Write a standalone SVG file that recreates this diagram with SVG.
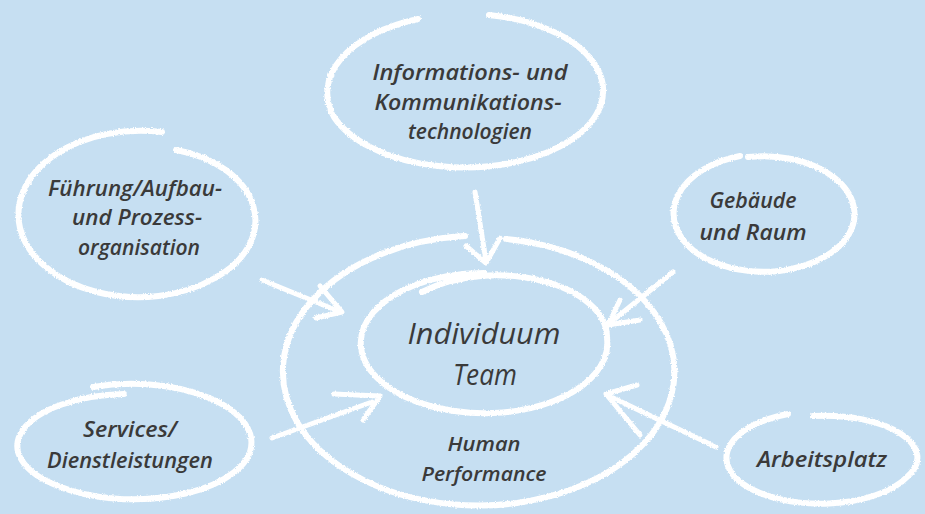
<svg xmlns="http://www.w3.org/2000/svg" width="925" height="514" viewBox="0 0 925 514">
  <defs>
    <filter id="chalk" filterUnits="userSpaceOnUse" x="0" y="0" width="925" height="514">
      <feTurbulence type="fractalNoise" baseFrequency="0.7" numOctaves="2" seed="4" result="n"/>
      <feDisplacementMap in="SourceGraphic" in2="n" scale="3" xChannelSelector="R" yChannelSelector="G"/>
    </filter>
    <style>
      .ring { fill: none; stroke: #ffffff; stroke-width: 6; stroke-linecap: round; stroke-linejoin: round; }
      .arrow { fill: none; stroke: #ffffff; stroke-width: 5; stroke-linecap: round; stroke-linejoin: round; }
      .lbl { font-family: "Open Sans", "Liberation Sans", "DejaVu Sans", sans-serif; font-style: italic; font-weight: 600; font-size: 22px; fill: #3a3a3a; text-anchor: middle; }
      .big { font-size: 30px; font-weight: 500; }
      .mid { font-size: 20px; }
    </style>
  </defs>
  <rect x="0" y="0" width="925" height="514" fill="#c6dff2"/>

  <g id="connectors" filter="url(#chalk)">
    <path class="arrow" d="M475,192 L486,261"/>
    <path class="arrow" d="M466,246 L486,263 L500,238"/>
    <path class="arrow" d="M262,280 L338,311"/>
    <path class="arrow" d="M320,286 L342,312 L316,318"/>
    <path class="arrow" d="M673,272 L611,322"/>
    <path class="arrow" d="M620,300 L608,325 L640,320"/>
    <path class="arrow" d="M272,438 L372,402"/>
    <path class="arrow" d="M334,394 L380,396 L363,420"/>
    <path class="arrow" d="M716,447 L609,396"/>
    <path class="arrow" d="M637,385 L606,394 L640,435"/>
  </g>

  <g id="human-performance">
    <path class="ring" filter="url(#chalk)" d="M506,239 A196,134 0 0,1 633,454 A196,134 0 0,1 297,422 A198,136 0 0,1 465,236"/>
    <text class="lbl mid" x="484" y="451" textLength="73" lengthAdjust="spacingAndGlyphs">Human</text>
    <text class="lbl mid" x="484" y="481" textLength="125" lengthAdjust="spacingAndGlyphs">Performance</text>
  </g>

  <g id="individuum-team">
    <path class="ring" filter="url(#chalk)" d="M422,292 A110,62 0 0,1 607,338 A123,70 0 0,1 430,406 A123,70 0 0,1 415,285 A123,70 0 0,1 484,273"/>
    <text class="lbl big" x="484" y="344" textLength="153" lengthAdjust="spacingAndGlyphs">Individuum</text>
    <text class="lbl big" x="485" y="385" textLength="64" lengthAdjust="spacingAndGlyphs">Team</text>
  </g>

  <g id="ikt">
    <path class="ring" filter="url(#chalk)" d="M489,15 A139,77 0 0,1 571,140 A139,77 0 0,1 334,117 A141,79 0 0,1 418,19"/>
    <text class="lbl" x="470" y="80" textLength="195" lengthAdjust="spacingAndGlyphs">Informations- und</text>
    <text class="lbl" x="468" y="110" textLength="187" lengthAdjust="spacingAndGlyphs">Kommunikations-</text>
    <text class="lbl" x="470" y="139" textLength="124" lengthAdjust="spacingAndGlyphs">technologien</text>
  </g>

  <g id="fuehrung">
    <path class="ring" filter="url(#chalk)" d="M176,150 A106,73 0 0,1 215,278 A120,83 0 0,1 20,228 A122,84 0 0,1 162,132"/>
    <text class="lbl" x="135" y="196" textLength="174" lengthAdjust="spacingAndGlyphs">Führung/Aufbau-</text>
    <text class="lbl" x="137" y="225" textLength="130" lengthAdjust="spacingAndGlyphs">und Prozess-</text>
    <text class="lbl" x="139" y="255" textLength="122" lengthAdjust="spacingAndGlyphs">organisation</text>
  </g>

  <g id="gebaeude">
    <path class="ring" filter="url(#chalk)" d="M748,157 A91,58 0 0,1 849,234 A91,58 0 0,1 694,251 A93,60 0 0,1 740,156"/>
    <text class="lbl" x="753" y="208" textLength="87" lengthAdjust="spacingAndGlyphs">Gebäude</text>
    <text class="lbl" x="753" y="240" textLength="107" lengthAdjust="spacingAndGlyphs">und Raum</text>
  </g>

  <g id="services">
    <path class="ring" filter="url(#chalk)" d="M93,387 A120,59 0 0,1 250,452 A118,57 0 0,1 58,486 A112,52 0 0,1 124,394"/>
    <text class="lbl" x="130" y="437" textLength="94" lengthAdjust="spacingAndGlyphs">Services/</text>
    <text class="lbl" x="130" y="468" textLength="166" lengthAdjust="spacingAndGlyphs">Dienstleistungen</text>
  </g>

  <g id="arbeitsplatz">
    <path class="ring" filter="url(#chalk)" d="M813,416 A93,42 0 0,1 907,477 A95,46 0 0,1 743,484 A97,47 0 0,1 788,414"/>
    <text class="lbl" x="822" y="467" textLength="130" lengthAdjust="spacingAndGlyphs">Arbeitsplatz</text>
  </g>
</svg>
